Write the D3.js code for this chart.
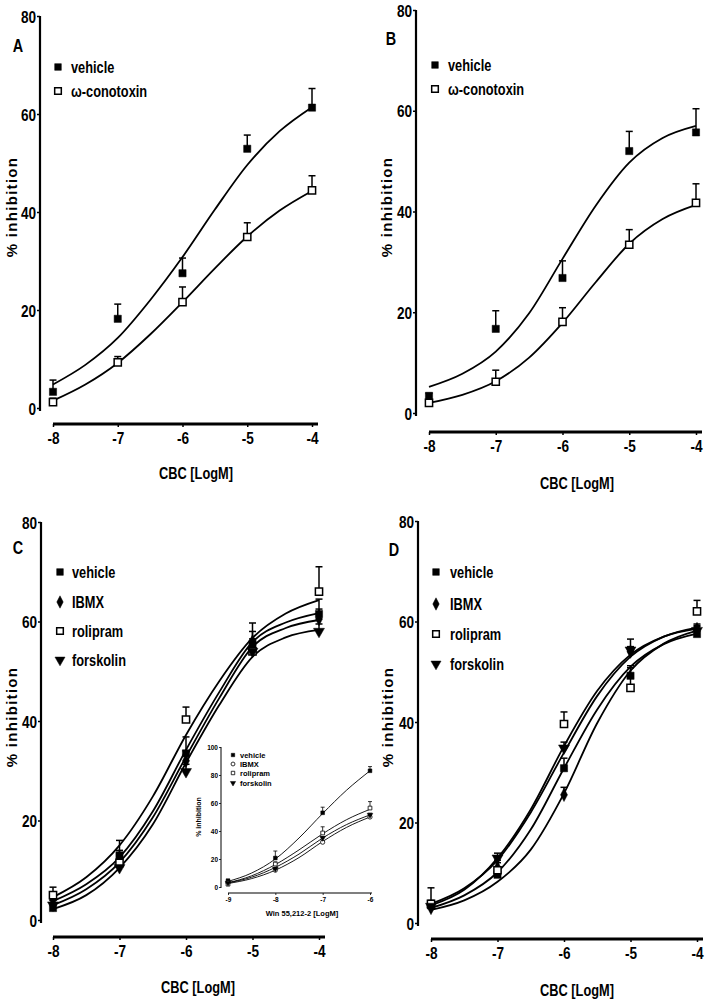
<!DOCTYPE html>
<html><head><meta charset="utf-8">
<script src="https://cdn.jsdelivr.net/npm/d3@7"></script>
<style>
html,body{margin:0;padding:0;background:#fff;}
svg{display:block;}
text{font-family:"Liberation Sans",Arial,sans-serif;font-weight:bold;fill:#000;}
</style></head><body>
<svg id="c" width="709" height="1005"></svg>
<script>
// ---------- DATA ----------
const doses = [-8, -7, -6, -5, -4];
const curveX = [-8, -7.5, -7, -6.5, -6, -5.5, -5, -4.5, -4];
const yTicks = [0, 20, 40, 60, 80];
const xTicks = [-8, -7, -6, -5, -4];

// Panel A
const aNames = ["vehicle", "ω-conotoxin"];
const aVehicle = [3.3, 18.2, 27.5, 52.9, 61.3];
const aVehicleSem = [2.4, 3.0, 3.1, 2.8, 3.9];
const aCono = [1.2, 9.3, 21.6, 34.9, 44.4];
const aConoSem = [0.8, 1.2, 3.1, 2.9, 3.0];
const aVehicleFit = [4.8, 8.8, 14.3, 22.0, 30.8, 40.5, 49.6, 56.5, 61.4];
const aConoFit = [1.5, 4.8, 9.2, 15.0, 21.6, 28.5, 35.0, 40.3, 44.3];

// Panel B
const bNames = ["vehicle", "ω-conotoxin"];
const bVehicle = [3.4, 16.7, 26.8, 52.0, 55.7];
const bVehicleSem = [0.5, 3.6, 3.4, 3.9, 4.7];
const bCono = [2.0, 6.2, 18.1, 33.4, 41.7];
const bConoSem = [0.5, 2.3, 2.8, 3.0, 3.8];
const bVehicleFit = [5.2, 7.8, 12.2, 19.8, 30.6, 41.2, 49.7, 54.6, 57.0];
const bConoFit = [2.0, 3.6, 6.3, 11.0, 17.9, 26.0, 33.6, 38.5, 41.3];

// Panel C
const cNames = ["vehicle", "IBMX", "rolipram", "forskolin"];
const cVehicle = [2.4, 13.0, 33.5, 55.5, 61.5];
const cVehicleSem = [3.0, 3.0, 3.3, 4.2, 3.0];
const cIbmx = [4.0, 12.0, 32.0, 56.0, 60.5];
const cIbmxSem = [1.5, 2.0, 2.0, 2.0, 2.0];
const cRoli = [5.0, 11.5, 40.3, 54.0, 66.0];
const cRoliSem = [1.6, 2.0, 2.5, 2.5, 5.0];
const cForsk = [3.0, 10.5, 29.8, 54.0, 58.0];
const cForskSem = [1.0, 1.5, 1.5, 1.5, 1.5];
const cRoliFit = [4.6, 8.6, 15.0, 24.8, 37.2, 48.0, 56.7, 61.6, 64.3];
const cVehicleFit = [3.8, 7.2, 12.6, 21.8, 34.2, 45.8, 55.9, 59.8, 61.7];
const cIbmxFit = [3.0, 6.2, 11.6, 20.6, 32.8, 44.6, 54.9, 58.7, 60.3];
const cForskFit = [2.2, 5.0, 10.5, 19.2, 31.6, 43.2, 52.9, 56.8, 58.3];

// Panel D
const dNames = ["vehicle", "IBMX", "rolipram", "forskolin"];
const dVehicle = [3.5, 9.6, 30.8, 49.2, 57.5];
const dVehicleSem = [1.0, 1.5, 2.0, 2.0, 1.5];
const dIbmx = [3.0, 11.0, 25.5, 54.0, 58.5];
const dIbmxSem = [1.0, 1.5, 1.5, 1.0, 1.0];
const dRoli = [3.8, 10.5, 39.6, 46.8, 62.0];
const dRoliSem = [3.2, 1.5, 2.4, 4.0, 2.2];
const dForsk = [3.3, 12.9, 34.8, 54.3, 58.2];
const dForskSem = [1.0, 1.0, 1.2, 2.2, 1.0];
const dForskFit = [3.5, 6.6, 12.9, 22.6, 35.2, 46.2, 53.4, 57.0, 58.6];
const dRoliFit = [3.8, 6.9, 12.5, 22.0, 33.9, 45.2, 53.0, 57.0, 58.8];
const dVehicleFit = [3.0, 5.5, 10.1, 18.6, 30.8, 42.5, 51.0, 55.5, 57.6];
const dIbmxFit = [2.6, 4.5, 8.2, 14.6, 25.8, 39.8, 50.2, 55.6, 58.2];

// Inset (Win 55,212-2)
const inDoses = [-9, -8, -7, -6];
const inCurveX = [-9, -8.5, -8, -7.5, -7, -6.5, -6];
const inYTicks = [0, 20, 40, 60, 80, 100];
const inXTicks = [-9, -8, -7, -6];
const inNames = ["vehicle", "IBMX", "rolipram", "forskolin"];
const inVehicle = [4.5, 20.7, 53.0, 83.0];
const inVehicleSem = [1.0, 5.0, 4.0, 3.0];
const inIbmx = [3.0, 12.0, 32.0, 50.0];
const inIbmxSem = [0.5, 1.0, 1.0, 1.5];
const inRoli = [2.0, 16.4, 38.6, 56.4];
const inRoliSem = [0.5, 1.5, 4.4, 4.6];
const inForsk = [3.0, 13.0, 35.0, 51.5];
const inForskSem = [0.5, 1.0, 1.0, 1.2];
const inVehicleFit = [4.0, 10.0, 20.0, 35.0, 52.5, 69.0, 83.0];
const inRoliFit = [3.0, 8.0, 16.0, 26.5, 38.0, 48.0, 55.5];
const inForskFit = [3.0, 7.0, 14.0, 23.5, 35.0, 44.5, 51.5];
const inIbmxFit = [2.5, 6.0, 12.0, 21.0, 32.5, 42.5, 50.0];

// ---------- DRAWING ----------
const svg = d3.select("#c");

// horizontally condense text around its anchor x (narrow bold look)
function condense(sel, k) {
  sel.each(function () {
    const t = d3.select(this);
    const x = +t.attr("x") || 0;
    t.attr("transform", `translate(${x * (1 - k)},0) scale(${k},1)`);
  });
}

function symbolPath(kind, size) {
  const types = {sq: d3.symbolSquare, osq: d3.symbolSquare, dia: d3.symbolDiamond, tri: d3.symbolTriangle, circ: d3.symbolCircle};
  return d3.symbol().type(types[kind]).size(size)();
}
function drawSymbol(g, kind, cx, cy, size, sw) {
  const open = (kind === "osq" || kind === "circ");
  g.append("path").attr("d", symbolPath(kind, size))
    .attr("transform", `translate(${cx},${cy})` + (kind === "tri" ? " rotate(180)" : "") + (kind === "dia" ? " scale(0.9,1)" : ""))
    .attr("fill", open ? "#fff" : "#000")
    .attr("stroke", "#000").attr("stroke-width", open ? sw : 0.5);
}

function panel(cfg) {
  const g = svg.append("g");
  const x = d3.scaleLinear().domain(cfg.xDom).range([cfg.xL, cfg.xR]);
  const y = d3.scaleLinear().domain(cfg.yDom).range([cfg.y0, cfg.yTop]);
  const k = cfg.cond;

  // y axis
  const ya = d3.axisLeft(y).tickValues(cfg.yTicks).tickSize(cfg.tick).tickSizeOuter(0).tickPadding(1).tickFormat(d => String(d));
  const yg = g.append("g").attr("transform", `translate(${cfg.yAxisX},0)`).call(ya);
  yg.select(".domain").attr("stroke-width", cfg.axW).attr("d", `M0,${cfg.yTop}V${cfg.y0 + cfg.axExt}`);
  yg.selectAll(".tick line").attr("stroke-width", cfg.tickW);
  yg.selectAll("text").style("font-size", cfg.tickFont + "px").attr("dy", "0.36em").call(condense, k);

  // x axis (extended line)
  const xa = d3.axisBottom(x).tickValues(cfg.xTicks).tickSize(cfg.tick).tickSizeOuter(0).tickPadding(cfg.xPad).tickFormat(d => String(d));
  const xg = g.append("g").attr("transform", `translate(0,${cfg.xAxisY})`).call(xa);
  xg.select(".domain").attr("stroke-width", cfg.xAxW).attr("d", `M${cfg.xL},0H${cfg.xR + cfg.xExt}`);
  xg.selectAll(".tick line").attr("stroke-width", cfg.tickW);
  xg.selectAll("text").style("font-size", cfg.xTickFont + "px").call(condense, k);

  // labels
  if (cfg.letter) g.append("text").attr("x", cfg.letter[1]).attr("y", cfg.letter[2]).attr("text-anchor", "middle")
    .style("font-size", "18px").text(cfg.letter[0]).call(condense, k);
  g.append("text").attr("transform", `translate(${cfg.yLab[0]},${cfg.yLab[1]}) rotate(-90)`)
    .attr("text-anchor", "middle").attr("dy", "0.35em").style("font-size", cfg.yLabFont + "px").style("letter-spacing", cfg.yLabSp + "px")
    .text(cfg.yLabText);
  g.append("text").attr("x", cfg.xLab[0]).attr("y", cfg.xLab[1]).attr("text-anchor", "middle").attr("dy", "0.35em")
    .style("font-size", cfg.xLabFont + "px").text(cfg.xLabText).call(condense, k);

  // curves
  const line = d3.line().x(d => x(d[0])).y(d => y(d[1])).curve(d3.curveMonotoneX);
  cfg.series.forEach(s => {
    g.append("path").attr("d", line(cfg.curveX.map((cx, i) => [cx, s.fit[i]])))
      .attr("fill", "none").attr("stroke", "#000").attr("stroke-width", cfg.curveW);
  });
  // error bars (upper) + markers
  cfg.series.forEach(s => {
    cfg.doses.forEach((dv, i) => {
      const cx = x(dv), cy = y(s.vals[i]), ty = y(s.vals[i] + s.sem[i]);
      g.append("line").attr("x1", cx).attr("x2", cx).attr("y1", cy).attr("y2", ty).attr("stroke", "#000").attr("stroke-width", cfg.errW);
      g.append("line").attr("x1", cx - cfg.cap).attr("x2", cx + cfg.cap).attr("y1", ty).attr("y2", ty).attr("stroke", "#000").attr("stroke-width", cfg.errW);
    });
  });
  cfg.series.forEach(s => {
    cfg.doses.forEach((dv, i) => drawSymbol(g, s.sym, x(dv), y(s.vals[i]), cfg.symSize, cfg.symSW));
  });
  // legend
  cfg.series.forEach((s, i) => {
    drawSymbol(g, s.sym, cfg.legX, cfg.legY[i], cfg.legSymSize, cfg.symSW);
    g.append("text").attr("x", cfg.legTX).attr("y", cfg.legY[i]).attr("dy", "0.36em")
      .style("font-size", cfg.legFont + "px").text(s.name).call(condense, k);
  });
}

const mainBase = {
  xDom: [-8, -4], yDom: [0, 80], yTicks: yTicks, xTicks: xTicks, doses: doses, curveX: curveX,
  tick: 3, axW: 2.2, xAxW: 3, tickW: 1.5, axExt: 3, xExt: 6, xPad: 5, cond: 0.8,
  tickFont: 17, xTickFont: 17, yLabFont: 15, yLabSp: 1.3, yLabText: "% inhibition", xLabFont: 16, xLabText: "CBC [LogM]",
  curveW: 1.8, errW: 1.5, cap: 3.5, symSize: 52, symSW: 1.5, legSymSize: 44, legFont: 16
};

panel(Object.assign({}, mainBase, {
  xL: 53, xR: 312, y0: 408, yTop: 16, yAxisX: 40, xAxisY: 424,
  letter: ["A", 18, 52], yLab: [12, 207], xLab: [196, 473],
  legX: 58, legTX: 71, legY: [67, 91],
  series: [
    {name: aNames[0], sym: "sq", vals: aVehicle, sem: aVehicleSem, fit: aVehicleFit},
    {name: aNames[1], sym: "osq", vals: aCono, sem: aConoSem, fit: aConoFit}
  ]
}));
panel(Object.assign({}, mainBase, {
  xL: 429, xR: 696, y0: 413, yTop: 10, yAxisX: 416, xAxisY: 432,
  letter: ["B", 391, 45], yLab: [387, 207], xLab: [577, 483],
  legX: 435, legTX: 448, legY: [65, 89],
  series: [
    {name: bNames[0], sym: "sq", vals: bVehicle, sem: bVehicleSem, fit: bVehicleFit},
    {name: bNames[1], sym: "osq", vals: bCono, sem: bConoSem, fit: bConoFit}
  ]
}));
panel(Object.assign({}, mainBase, {
  xL: 53, xR: 319, y0: 920, yTop: 522, yAxisX: 41, xAxisY: 937,
  letter: ["C", 18, 554], yLab: [12, 717], xLab: [198, 987],
  legX: 60, legTX: 72, legY: [572, 602, 631, 660],
  series: [
    {name: cNames[0], sym: "sq", vals: cVehicle, sem: cVehicleSem, fit: cVehicleFit},
    {name: cNames[1], sym: "dia", vals: cIbmx, sem: cIbmxSem, fit: cIbmxFit},
    {name: cNames[2], sym: "osq", vals: cRoli, sem: cRoliSem, fit: cRoliFit},
    {name: cNames[3], sym: "tri", vals: cForsk, sem: cForskSem, fit: cForskFit}
  ]
}));
panel(Object.assign({}, mainBase, {
  xL: 431, xR: 697, y0: 923, yTop: 521, yAxisX: 418, xAxisY: 939,
  letter: ["D", 394, 556], yLab: [388, 717], xLab: [577, 990],
  legX: 436, legTX: 450, legY: [572, 604, 634, 664],
  series: [
    {name: dNames[0], sym: "sq", vals: dVehicle, sem: dVehicleSem, fit: dVehicleFit},
    {name: dNames[1], sym: "dia", vals: dIbmx, sem: dIbmxSem, fit: dIbmxFit},
    {name: dNames[2], sym: "osq", vals: dRoli, sem: dRoliSem, fit: dRoliFit},
    {name: dNames[3], sym: "tri", vals: dForsk, sem: dForskSem, fit: dForskFit}
  ]
}));
// inset
panel({
  xDom: [-9, -6], yDom: [0, 100], yTicks: inYTicks, xTicks: inXTicks, doses: inDoses, curveX: inCurveX,
  xL: 228, xR: 370, y0: 887, yTop: 747, yAxisX: 221, xAxisY: 893,
  tick: 2, axW: 1, xAxW: 1.2, tickW: 0.8, axExt: 1, xExt: 2, xPad: 2, cond: 1,
  tickFont: 6.5, xTickFont: 6.5, yLabFont: 7, yLabSp: 0, yLabText: "% inhibition", xLabFont: 7.5, xLabText: "Win 55,212-2 [LogM]",
  letter: null, yLab: [199, 817], xLab: [302, 913],
  curveW: 0.9, errW: 0.8, cap: 2, symSize: 14, symSW: 0.8, legSymSize: 12, legFont: 7.5,
  legX: 233, legTX: 240, legY: [755, 764, 773, 783],
  series: [
    {name: inNames[0], sym: "sq", vals: inVehicle, sem: inVehicleSem, fit: inVehicleFit},
    {name: inNames[1], sym: "circ", vals: inIbmx, sem: inIbmxSem, fit: inIbmxFit},
    {name: inNames[2], sym: "osq", vals: inRoli, sem: inRoliSem, fit: inRoliFit},
    {name: inNames[3], sym: "tri", vals: inForsk, sem: inForskSem, fit: inForskFit}
  ]
});
</script></body></html>
